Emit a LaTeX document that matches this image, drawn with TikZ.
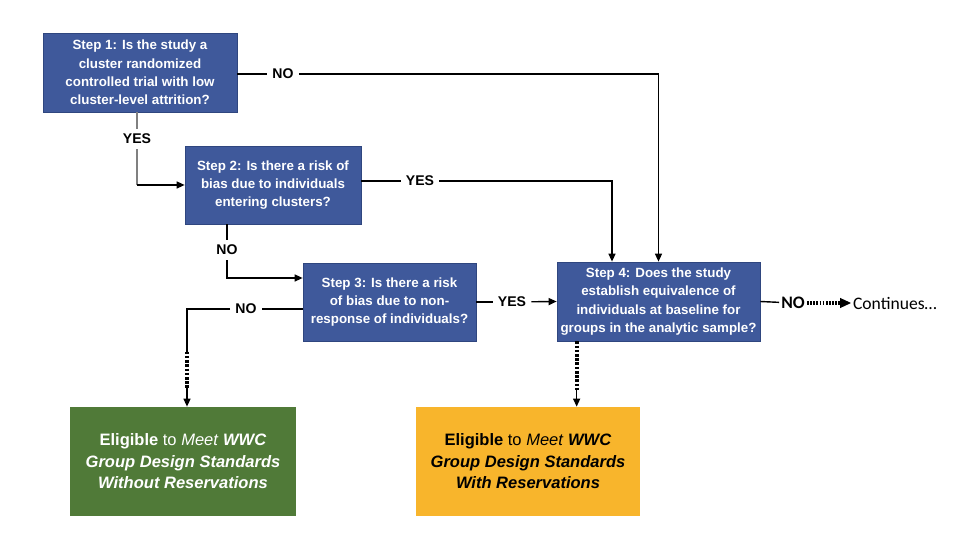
\documentclass[tikz,border=0pt]{standalone}
\usepackage{fontspec}
\setmainfont{Liberation Sans}
\newfontfamily\calfont{Carlito}
\usepackage{tikz}
\usetikzlibrary{arrows.meta,positioning,calc}
\usepackage{xcolor}
\definecolor{wblue}{RGB}{63,89,155}
\definecolor{wblueline}{RGB}{47,70,127}
\definecolor{wgreen}{RGB}{80,122,56}
\definecolor{worange}{RGB}{248,181,44}

\begin{document}
\begin{tikzpicture}[
    stepbox/.style={rectangle, draw=wblueline, line width=0.4pt, fill=wblue, text=white, align=center,
                    inner sep=0pt, font=\fontsize{7.6}{10.4}\selectfont\bfseries},
    endbox/.style={rectangle, align=center, inner sep=0pt, minimum width=4.5cm, minimum height=2.18cm,
                   font=\fontsize{9.4}{12.2}\selectfont},
    answer/.style={inner sep=3pt, outer sep=0pt, font=\fontsize{8}{9}\selectfont\bfseries},
    link/.style={line width=0.8pt},
    flow_edge/.style={-{Triangle[length=1.6mm, width=1.4mm]}, line width=0.8pt},
    heavy_dash/.style={line width=2.4pt, dash pattern=on 1.5pt off 0.9pt}
]
\useasboundingbox (0,0) rectangle (19.2,10.8);

% Question boxes
\node[stepbox, minimum width=3.88cm, minimum height=1.58cm] (s1) at (2.80, 9.35)
    {Step 1: Is the study a\\cluster randomized\\controlled trial with low\\cluster-level attrition?};
\node[stepbox, minimum width=3.52cm, minimum height=1.56cm] (s2) at (5.46, 7.10)
    {Step 2: Is there a risk of\\bias due to individuals\\entering clusters?};
\node[stepbox, minimum width=3.46cm, minimum height=1.56cm] (s3) at (7.79, 4.76)
    {Step 3: Is there a risk\\of bias due to non-\\response of individuals?};
\node[stepbox, minimum width=4.06cm, minimum height=1.58cm] (s4) at (13.17, 4.77)
    {Step 4: Does the study\\establish equivalence of\\individuals at baseline for\\groups in the analytic sample?};

% Outcome boxes
\node[endbox, fill=wgreen, text=white, minimum width=4.52cm] (green) at (3.66, 1.57)
    {\textbf{Eligible} to \textit{Meet} \textbf{\textit{WWC}}\\
     \textbf{\textit{Group Design Standards}}\\
     \textbf{\textit{Without Reservations}}};
\node[endbox, fill=worange, text=black, minimum width=4.48cm] (orange) at (10.56, 1.57)
    {\textbf{Eligible} to \textit{Meet} \textbf{\textit{WWC}}\\
     \textbf{\textit{Group Design Standards}}\\
     \textbf{\textit{With Reservations}}};

% Answer labels
\node[answer] (no1) at (5.66, 9.32) {NO};
\node[answer] (yes1) at (2.74, 8.02) {YES};
\node[answer] (yes2) at (8.40, 7.18) {YES};
\node[answer] (no2) at (4.54, 5.80) {NO};
\node[answer] (no3) at (4.92, 4.62) {NO};
\node[answer] (yes3) at (10.24, 4.76) {YES};
\node[inner sep=1pt, font=\fontsize{10}{12}\selectfont\calfont\bfseries] (no4) at (15.86, 4.74) {NO};
\node[inner sep=1pt, anchor=west, font=\fontsize{10}{12}\selectfont\calfont] (cont) at (17.02, 4.74) {Continues\dots};

% Step 1
\draw[link] (s1.east |- no1) -- (no1);
\draw[flow_edge] (no1) -| (s4.north);
\draw[link, gray] (yes1 |- s1.south) -- (yes1);
\draw[link, gray] (yes1) -- (yes1 |- s2.west);
\draw[flow_edge] (yes1 |- s2.west) -- (s2.west);

% Step 2
\draw[link] (s2.east |- yes2) -- (yes2);
\draw[flow_edge] (yes2) -| ([xshift=-9.3mm]s4.north);
\draw[link] (no2 |- s2.south) -- (no2);
\draw[flow_edge] (no2) |- ([yshift=4.8mm]s3.west);

% Step 3
\draw[link] (s3.east) -- (yes3);
\draw[flow_edge] (yes3) -- (s4.west);
\coordinate (gin) at ([xshift=0.8mm]green.north);
\coordinate (gdash) at ([yshift=11mm]gin);
\coordinate (gend) at ([yshift=3.8mm]gin);
\draw[link] ([yshift=-1.4mm]s3.west) -- (no3);
\draw[link] (no3) -| (gdash);
\draw[heavy_dash] (gdash) -- (gend);
\draw[flow_edge] (gend) -- (gin);

% Step 4
\coordinate (s4out) at ([xshift=4mm]s4.south west);
\coordinate (s4end) at ([yshift=-9.8mm]s4out);
\draw[heavy_dash] (s4out) -- (s4end);
\draw[flow_edge] (s4end) -- (s4end |- orange.north);
\draw[link] (s4.east) -- (no4);
\draw[line width=1.8pt, dash pattern=on 1pt off 0.8pt] (no4.east) -- ([xshift=-2.2mm]cont.west);
\draw[-{Triangle[length=2.2mm, width=2mm]}, line width=0.6pt] ([xshift=-2.3mm]cont.west) -- (cont.west);

\end{tikzpicture}
\end{document}
